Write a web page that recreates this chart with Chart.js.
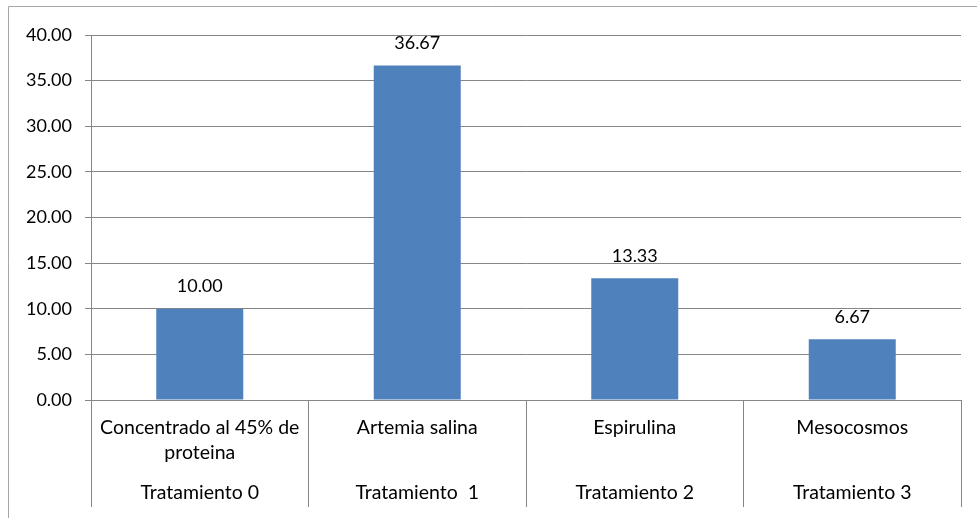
<!DOCTYPE html>
<html>
<head>
<meta charset="utf-8">
<script src="https://cdn.jsdelivr.net/npm/chart.js@4"></script>
<style>
html,body{margin:0;padding:0;background:#fff;}
canvas{display:block;}
</style>
</head>
<body>
<canvas id="c" width="977" height="518"></canvas>
<script>
const upperLabels = [["Concentrado al 45% de", "proteina"], "Artemia salina", "Espirulina", "Mesocosmos"];
const lowerLabels = ["Tratamiento 0", "Tratamiento  1", "Tratamiento 2", "Tratamiento 3"];
const values = [10.00, 36.67, 13.33, 6.67];
const yTicks = { min: 0, max: 40, step: 5 };

const FONT = 'Lato';
const GRID = '#868686';
const CAT_SIZE = 19.5;

const framePlugin = {
  id: 'frame',
  beforeDraw(chart) {
    const ctx = chart.ctx;
    ctx.save();
    ctx.strokeStyle = '#a6a6a6';
    ctx.lineWidth = 1;
    ctx.beginPath();
    ctx.moveTo(8.5, chart.height);
    ctx.lineTo(8.5, 6.5);
    ctx.lineTo(chart.width, 6.5);
    ctx.stroke();
    ctx.restore();
  }
};

const labelPlugin = {
  id: 'valueLabels',
  afterDatasetsDraw(chart) {
    const ctx = chart.ctx;
    const meta = chart.getDatasetMeta(0);
    ctx.save();
    ctx.font = '18px ' + FONT;
    ctx.fillStyle = '#000';
    ctx.textAlign = 'center';
    ctx.textBaseline = 'alphabetic';
    meta.data.forEach((bar, i) => {
      ctx.fillText(chart.data.datasets[0].data[i].toFixed(2), bar.x, bar.y - 16.5);
    });
    ctx.restore();
  }
};

new Chart(document.getElementById('c'), {
  type: 'bar',
  data: {
    labels: upperLabels,
    datasets: [{
      data: values,
      backgroundColor: '#4f81bd',
      borderWidth: 0,
      barPercentage: 0.4,
      categoryPercentage: 1.0
    }]
  },
  options: {
    responsive: false,
    animation: false,
    layout: { padding: { left: 0, top: 35, right: 16, bottom: 11 } },
    plugins: { legend: { display: false }, tooltip: { enabled: false } },
    scales: {
      x: {
        type: 'category',
        position: 'bottom',
        weight: 0,
        offset: true,
        grid: { display: true, offset: true, drawOnChartArea: false, drawTicks: true, tickLength: 65, color: GRID, lineWidth: 1 },
        border: { display: true, color: GRID, width: 1 },
        ticks: { autoSkip: false, maxRotation: 0, minRotation: 0, padding: -49.5, color: '#000', font: { family: FONT, size: CAT_SIZE, lineHeight: 25/CAT_SIZE } },
        afterFit(scale) { scale.height = 65; }
      },
      x2: {
        type: 'category',
        axis: 'x',
        position: 'bottom',
        weight: 1,
        labels: lowerLabels,
        offset: true,
        grid: { display: true, offset: true, drawOnChartArea: false, drawTicks: true, tickLength: 42, color: GRID, lineWidth: 1 },
        border: { display: false },
        ticks: { autoSkip: false, maxRotation: 0, minRotation: 0, padding: -26.5, color: '#000', font: { family: FONT, size: CAT_SIZE, lineHeight: 25/CAT_SIZE } },
        afterFit(scale) { scale.height = 42; }
      },
      y: {
        min: yTicks.min,
        max: yTicks.max,
        grid: { color: GRID, lineWidth: 1, tickLength: 6, drawTicks: true },
        border: { display: true, color: GRID, width: 1 },
        ticks: {
          stepSize: yTicks.step,
          padding: 13,
          color: '#000',
          font: { family: FONT, size: 18 },
          callback: v => Number(v).toFixed(2)
        },
        afterFit(scale) { scale.width = 91; }
      }
    }
  },
  plugins: [framePlugin, labelPlugin]
});
</script>
</body>
</html>
